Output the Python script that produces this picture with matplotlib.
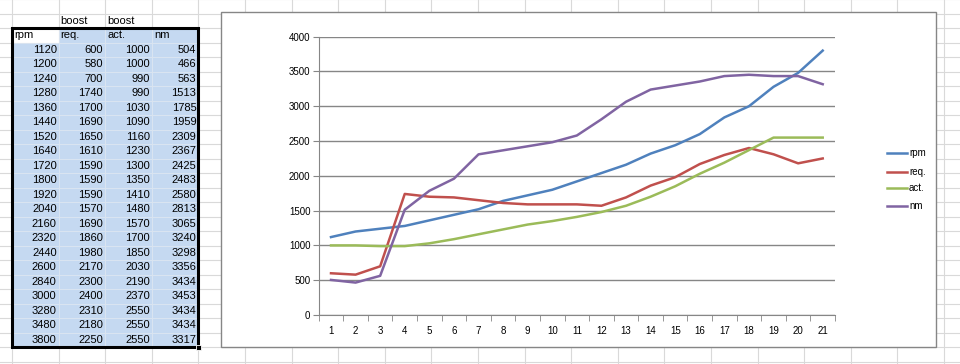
import numpy as np
import matplotlib.pyplot as plt
from matplotlib.patches import Rectangle
from matplotlib.lines import Line2D

plt.rcParams['font.family'] = ['Liberation Sans', 'DejaVu Sans']

# sheet data
headers_top = ["", "boost", "boost", ""]
headers = ["rpm", "req.", "act.", "nm"]
rpm = [1120, 1200, 1240, 1280, 1360, 1440, 1520, 1640, 1720, 1800, 1920,
       2040, 2160, 2320, 2440, 2600, 2840, 3000, 3280, 3480, 3800]
req = [600, 580, 700, 1740, 1700, 1690, 1650, 1610, 1590, 1590, 1590,
       1570, 1690, 1860, 1980, 2170, 2300, 2400, 2310, 2180, 2250]
act = [1000, 1000, 990, 990, 1030, 1090, 1160, 1230, 1300, 1350, 1410,
       1480, 1570, 1700, 1850, 2030, 2190, 2370, 2550, 2550, 2550]
nm = [504, 466, 563, 1513, 1785, 1959, 2309, 2367, 2425, 2483, 2580,
      2813, 3065, 3240, 3298, 3356, 3434, 3453, 3434, 3434, 3317]
series = [("rpm", rpm, "#4F81BD"), ("req.", req, "#C0504D"),
          ("act.", act, "#9BBB59"), ("nm", nm, "#8064A2")]

W, H = 960, 364
fig = plt.figure(figsize=(W / 100, H / 100), dpi=100)
bg = fig.add_axes([0, 0, 1, 1])
bg.set_xlim(0, W)
bg.set_ylim(H, 0)
bg.axis('off')

# spreadsheet grid
col_w, row_h = 46.6, 14.5
x0, y0 = 12, 13.5
grid_c = "#D9D9D9"
for k in range(-1, 22):
    bg.axvline(x0 + k * col_w, color=grid_c, lw=0.8, zorder=0)
for k in range(-1, 26):
    bg.axhline(y0 + k * row_h, color=grid_c, lw=0.8, zorder=0)

# selected table
sel = "#C5D9F1"
ncol = 4
nrows = len(rpm) + 1
for r in range(nrows):
    for c in range(ncol):
        if r == 0 and c == 0:
            continue
        bg.add_patch(Rectangle((x0 + c * col_w, y0 + (r + 1) * row_h), col_w, row_h,
                               facecolor=sel, edgecolor="#DCE6F2", lw=0.6, zorder=1))
bg.add_patch(Rectangle((x0, y0 + row_h), ncol * col_w, nrows * row_h,
                       fill=False, edgecolor="black", lw=2.2, zorder=3))
bg.add_patch(Rectangle((x0 + ncol * col_w - 2.5, y0 + (nrows + 1) * row_h - 2.5), 5, 5,
                       facecolor="black", edgecolor="white", lw=0.6, zorder=4))

fs = 8
for c, t in enumerate(headers_top):
    bg.text(x0 + c * col_w + 2, y0 + 0.5 * row_h, t, fontsize=fs, va='center', ha='left')
for c, t in enumerate(headers):
    bg.text(x0 + c * col_w + 2, y0 + 1.5 * row_h, t, fontsize=fs, va='center', ha='left', zorder=5)
cols = [rpm, req, act, nm]
for i in range(len(rpm)):
    for c in range(ncol):
        bg.text(x0 + (c + 1) * col_w - 2, y0 + (i + 2.5) * row_h, str(cols[c][i]),
                fontsize=fs, va='center', ha='right', zorder=5)

# chart object
bg.add_patch(Rectangle((221, 12), 936 - 221, 347 - 12, facecolor="white",
                       edgecolor="#868686", lw=1.0, zorder=6))

pl, pr, pt, pb = 318.7, 835, 36.7, 315
ax = fig.add_axes([pl / W, 1 - pb / H, (pr - pl) / W, (pb - pt) / H])
ax.set_zorder(10)
ax.patch.set_alpha(0)
x = np.arange(1, len(rpm) + 1)
for name, vals, col in series:
    ax.plot(x, vals, color=col, lw=1.8, label=name)
ax.set_xlim(0.5, len(rpm) + 0.5)
ax.set_ylim(0, 4000)
ax.set_yticks(np.arange(0, 4001, 500))
ax.set_xticks(x)
ax.set_xticks(np.arange(0.5, len(rpm) + 1, 1), minor=True)
ax.tick_params(axis='x', which='major', length=0, pad=8, labelsize=7)
ax.tick_params(axis='x', which='minor', length=4, color="#868686")
ax.tick_params(axis='y', length=4, color="#868686", labelsize=7, pad=2)
ax.yaxis.grid(True, color="#868686", lw=1)
ax.set_axisbelow(True)
for s in ['top', 'right']:
    ax.spines[s].set_visible(False)
for s in ['left', 'bottom']:
    ax.spines[s].set_color("#868686")

# legend
ly = [153, 172, 188, 206]
for (name, vals, col), yy in zip(series, ly):
    bg.add_line(Line2D([887, 907], [yy, yy], color=col, lw=1.8, zorder=7))
    bg.text(909, yy, name, fontsize=7, va='center', ha='left', zorder=7)

fig.savefig("out.png", dpi=100)
